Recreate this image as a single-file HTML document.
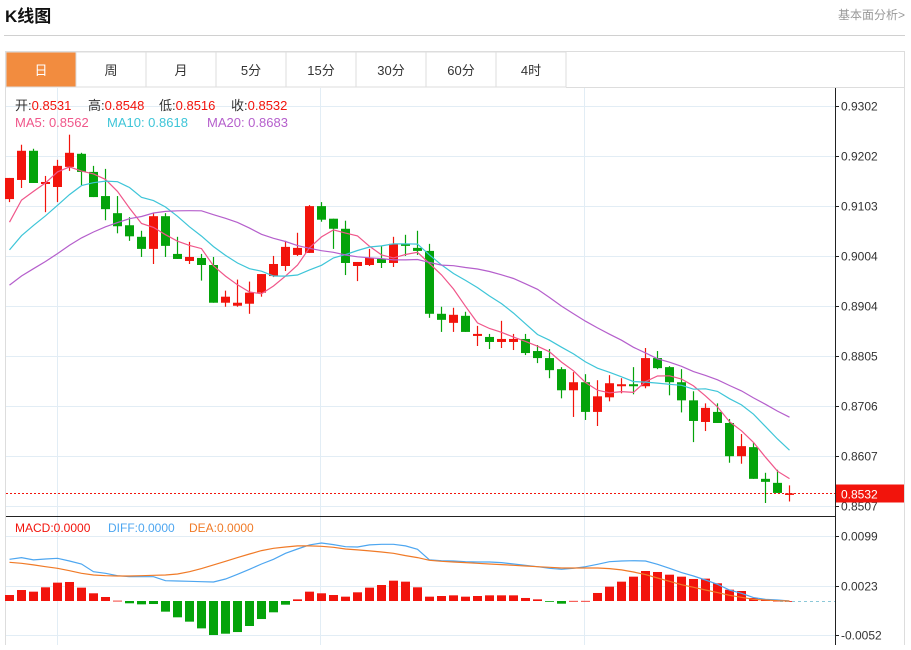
<!DOCTYPE html>
<html><head><meta charset="utf-8">
<style>
html,body{margin:0;padding:0;background:#fff;}
body{width:911px;height:645px;overflow:hidden;font-family:"Liberation Sans","Noto Sans CJK SC",sans-serif;}
svg text{font-family:"Liberation Sans","Noto Sans CJK SC",sans-serif;}
</style></head><body>
<svg id="chart" width="911" height="645" xmlns="http://www.w3.org/2000/svg">
<text x="5" y="22" font-size="17" font-weight="bold" fill="#111">K线图</text>
<text x="905" y="19" font-size="12" fill="#999" text-anchor="end">基本面分析&gt;</text>
<line x1="4" y1="35.5" x2="905" y2="35.5" stroke="#d0d0d0"/>
<rect x="5.5" y="51.5" width="899" height="600" fill="none" stroke="#ddd"/>
<g id="tabs"></g>
<g id="grid"></g>
<g id="marks"></g>
<g id="axes"></g>
<g font-size="13">
<text x="15" y="110"><tspan fill="#333">开:</tspan><tspan fill="#f2140c">0.8531</tspan></text>
<text x="88" y="110"><tspan fill="#333">高:</tspan><tspan fill="#f2140c">0.8548</tspan></text>
<text x="159" y="110"><tspan fill="#333">低:</tspan><tspan fill="#f2140c">0.8516</tspan></text>
<text x="231" y="110"><tspan fill="#333">收:</tspan><tspan fill="#f2140c">0.8532</tspan></text>
<text x="15" y="127" fill="#f0568a">MA5: 0.8562</text>
<text x="107" y="127" fill="#3ec5d8">MA10: 0.8618</text>
<text x="207" y="127" fill="#b55fcc">MA20: 0.8683</text>
</g>
<g font-size="12">
<text x="15" y="532" fill="#f2140c">MACD:0.0000</text>
<text x="108" y="532" fill="#4da6f0">DIFF:0.0000</text>
<text x="189" y="532" fill="#f07a27">DEA:0.0000</text>
</g>
</svg>
<script>
const tabLabels=['日','周','月','5分','15分','30分','60分','4时'];
const historyCloses=[.885,.886,.8865,.887,.8875,.888,.8885,.889,.8895,.889,.893,.8945,.896,.8975,.8995,.8993,.9063,.9066,.9074];
const opens=[.9117,.9155,.9213,.9147,.9141,.9181,.9207,.9171,.9123,.9089,.9065,.9042,.9018,.9083,.9008,.8994,.9000,.8986,.8911,.8905,.8909,.8931,.8964,.8984,.9006,.9010,.9103,.9078,.9058,.8984,.8986,.8998,.8990,.9028,.9020,.9014,.8889,.8871,.8885,.8845,.8843,.8833,.8833,.8839,.8815,.8801,.8779,.8737,.8753,.8694,.8723,.8745,.8749,.8745,.8801,.8783,.8753,.8717,.8674,.8694,.8672,.8606,.8624,.8561,.8553,.8531];
const highs=[.9159,.9225,.9217,.9163,.9195,.9245,.9209,.9183,.9177,.9123,.9081,.9054,.9089,.9089,.9042,.9032,.9008,.9002,.8935,.8957,.8953,.8968,.9004,.9034,.9050,.9105,.9111,.9078,.9074,.8992,.9018,.9024,.9042,.9046,.9054,.9028,.8903,.8901,.8893,.8865,.8849,.8875,.8849,.8849,.8827,.8819,.8783,.8773,.8769,.8757,.8767,.8761,.8783,.8821,.8815,.8785,.8779,.8735,.8711,.8711,.8680,.8650,.8632,.8573,.8579,.8548];
const lows=[.9111,.9139,.9149,.9091,.9111,.9173,.9145,.9121,.9075,.9049,.9034,.9002,.8988,.9002,.8998,.8988,.8955,.8911,.8903,.8903,.8889,.8923,.8962,.8974,.9004,.9010,.9072,.9018,.8966,.8954,.8984,.8980,.8982,.9004,.9006,.8881,.8853,.8853,.8853,.8825,.8819,.8821,.8817,.8807,.8791,.8761,.8721,.8684,.8678,.8666,.8715,.8731,.8729,.8741,.8779,.8727,.8693,.8634,.8656,.8672,.8593,.8591,.8561,.8513,.8533,.8516];
const closes=[.9159,.9213,.9149,.9151,.9183,.9209,.9171,.9121,.9097,.9063,.9043,.9018,.9083,.9024,.8998,.9002,.8986,.8911,.8923,.8911,.8931,.8968,.8988,.9022,.9020,.9103,.9076,.9058,.8990,.8992,.9000,.8990,.9028,.9024,.9014,.8889,.8877,.8887,.8853,.8849,.8833,.8839,.8839,.8811,.8801,.8777,.8737,.8753,.8694,.8725,.8751,.8749,.8745,.8801,.8781,.8753,.8717,.8676,.8702,.8672,.8606,.8626,.8561,.8555,.8533,.8532];
const priceTicks=[.9302,.9202,.9103,.9004,.8904,.8805,.8706,.8607,.8507];
const priceTickLabels=['0.9302','0.9202','0.9103','0.9004','0.8904','0.8805','0.8706','0.8607','0.8507'];
const macdBars=[.00091,.00167,.00142,.00208,.00279,.00289,.00203,.00117,.00061,.00005,-.00035,-.00051,-.00046,-.00162,-.00248,-.00314,-.00416,-.00517,-.00497,-.00472,-.0038,-.00274,-.00172,-.00056,.00025,.00142,.00117,.00091,.00066,.00132,.00203,.00243,.00309,.00294,.00208,.00066,.00076,.00086,.00066,.00076,.00086,.00086,.00086,.00046,.00025,-.00003,-.00041,.00002,.00002,.00122,.00218,.00294,.0037,.00456,.00441,.004,.0037,.00335,.0034,.00269,.00172,.00152,.00046,.0003,.00005,0];
const diffLine=[.00634,.00659,.00624,.00639,.00649,.00608,.00563,.00446,.00421,.00385,.0037,.0037,.0037,.00309,.00304,.00299,.00294,.00289,.00335,.00406,.00482,.00563,.00634,.00725,.00791,.00852,.00882,.00857,.00826,.00821,.00852,.00862,.00862,.00837,.00786,.00624,.00613,.00608,.00598,.00593,.00593,.00583,.00563,.00542,.00522,.00497,.00482,.00497,.00522,.00558,.00598,.00608,.00613,.00608,.00558,.00497,.00431,.0038,.00319,.00254,.00167,.00117,.00051,.00025,.00015,0];
const deaLine=[.00588,.00573,.00548,.00522,.00497,.00461,.00421,.00395,.00385,.0038,.0038,.00385,.0039,.00395,.00411,.00446,.00492,.00548,.00603,.00659,.00715,.00766,.00801,.00821,.00837,.00837,.00831,.00816,.00791,.00776,.00761,.00745,.00725,.0069,.00659,.00619,.00603,.00593,.00583,.00573,.00563,.00553,.00542,.00532,.00522,.00512,.00502,.00502,.00502,.00502,.00492,.00472,.00441,.00401,.0035,.00299,.00248,.00208,.00167,.00127,.00086,.00056,.00025,.00015,.00005,0];
const macdTicks=[.0099,.0023,-.0052];
const macdTickLabels=['0.0099','0.0023','-0.0052'];
const lastPrice=0.8532;

const NS='http://www.w3.org/2000/svg';
function mk(parent,tag,attrs){const e=document.createElementNS(NS,tag);for(const k in attrs)e.setAttribute(k,attrs[k]);parent.appendChild(e);return e;}
const xOf=i=>9+12*i;
const yP=v=>106+(0.9302-v)/0.00019875;
const yM=v=>601-v/0.000152;
const RED='#f2140c',GREEN='#04a30a';

const tabs=document.getElementById('tabs');
tabLabels.forEach((t,i)=>{
  const x=6+70*i;
  const r=mk(tabs,'rect',{x:x,y:52,width:70,height:35,fill:i===0?'#f28c3f':'#fff',stroke:'#ddd'});
  
  
  const tx=mk(tabs,'text',{x:x+35,y:75,'font-size':13,'text-anchor':'middle',fill:i===0?'#fff':'#333'});
  tx.textContent=t;
  
  
});
mk(tabs,'line',{x1:566,y1:87.5,x2:905,y2:87.5,stroke:'#ddd'});

const grid=document.getElementById('grid');
priceTicks.forEach(v=>{const y=Math.round(yP(v))+.5;mk(grid,'line',{x1:6,y1:y,x2:835,y2:y,stroke:'#e2edf5'});});
macdTicks.forEach(v=>{const y=Math.round(yM(v))+.5;mk(grid,'line',{x1:6,y1:y,x2:835,y2:y,stroke:'#e2edf5'});});
[57,320,584].forEach(x=>mk(grid,'line',{x1:x+.5,y1:88,x2:x+.5,y2:645,stroke:'#e2edf5'}));

const marks=document.getElementById('marks');
closes.forEach((c,i)=>{
  const o=opens[i],up=c>=o,col=up?RED:GREEN,x=xOf(i);
  const g=mk(marks,'g',{});
  
  
  mk(g,'line',{x1:x+.5,y1:yP(highs[i]),x2:x+.5,y2:yP(lows[i]),stroke:col,'stroke-width':1.2});
  const t=yP(Math.max(o,c)),b=yP(Math.min(o,c));
  mk(g,'rect',{x:x-4,y:t,width:9,height:Math.max(1.5,b-t),fill:col});
});
const all=historyCloses.concat(closes);
function ma(n,col,name){
  const pts=closes.map((c,i)=>{const k=i+historyCloses.length;let s=0;for(let j=k-n+1;j<=k;j++)s+=all[j];return xOf(i)+.5+','+yP(s/n).toFixed(1);});
  const p=mk(marks,'polyline',{points:pts.join(' '),fill:'none',stroke:col,'stroke-width':1.2});
  
  
}
ma(5,'#f0568a','ma5-line');ma(10,'#3ec5d8','ma10-line');ma(20,'#b55fcc','ma20-line');

const ly=Math.round(yP(lastPrice))+.5;
const lp=mk(marks,'line',{x1:6,y1:ly,x2:835,y2:ly,stroke:RED,'stroke-dasharray':'2,2'});



const y0=yM(0);
macdBars.forEach((v,i)=>{
  const y=yM(v);
  const r=mk(marks,'rect',{x:xOf(i)-4,y:Math.min(y,y0),width:9,height:Math.max(0.8,Math.abs(y-y0)),fill:v>=0?RED:GREEN});
  
  
});
const zl=mk(marks,'line',{x1:780,y1:Math.round(y0)+.5,x2:835,y2:Math.round(y0)+.5,stroke:'#8cc8d8','stroke-dasharray':'3,3'});


function mline(arr,col,name){
  const p=mk(marks,'polyline',{points:arr.map((v,i)=>(xOf(i)+.5)+','+yM(v).toFixed(1)).join(' '),fill:'none',stroke:col,'stroke-width':1.2});
  
  
}
mline(diffLine,'#4da6f0','diff-line');mline(deaLine,'#f07a27','dea-line');

const axes=document.getElementById('axes');
mk(axes,'line',{x1:835.5,y1:88,x2:835.5,y2:645,stroke:'#222'});
mk(axes,'line',{x1:6,y1:516.5,x2:835,y2:516.5,stroke:'#222'});
priceTicks.forEach((v,i)=>{
  const y=Math.round(yP(v))+.5;
  mk(axes,'line',{x1:835,y1:y,x2:839,y2:y,stroke:'#222'});
  const t=mk(axes,'text',{x:841,y:y+4,'font-size':12,fill:'#333'});
  t.textContent=priceTickLabels[i];
  
  
});
macdTicks.forEach((v,i)=>{
  const y=Math.round(yM(v))+.5;
  mk(axes,'line',{x1:835,y1:y,x2:839,y2:y,stroke:'#222'});
  const t=mk(axes,'text',{x:841,y:y+4,'font-size':12,fill:'#333'});
  t.textContent=macdTickLabels[i];
  
  
});
const lb=mk(axes,'rect',{x:836,y:ly-9,width:68,height:18,fill:RED});


const lt=mk(axes,'text',{x:841,y:ly+5,'font-size':12,fill:'#fff'});
lt.textContent='0.8532';


</script>
</body></html>
